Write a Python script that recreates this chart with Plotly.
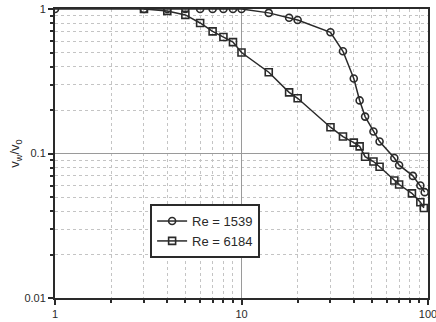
import plotly.graph_objects as go

# Re = 1539 (circles)
x_1539 = [1, 3, 4, 5, 6, 7, 8, 9, 10, 14, 18, 20, 30, 35, 40, 43, 46, 51, 55, 66, 70, 83, 91, 96]
v_1539 = [1.0, 1.0, 1.0, 1.0, 1.0, 1.0, 1.0, 1.0, 1.0, 0.94, 0.87, 0.84, 0.69, 0.51, 0.33, 0.233, 0.18,
          0.142, 0.121, 0.093, 0.083, 0.070, 0.060, 0.054]

# Re = 6184 (squares)
x_6184 = [3, 4, 5, 6, 7, 8, 9, 10, 14, 18, 20, 30, 35, 40, 43, 46, 51, 55, 66, 70, 82, 91, 95]
v_6184 = [1.0, 0.97, 0.91, 0.80, 0.70, 0.64, 0.59, 0.50, 0.365, 0.265, 0.241, 0.152, 0.131, 0.119,
          0.112, 0.095, 0.088, 0.081, 0.065, 0.061, 0.053, 0.046, 0.042]

x_ticks = [1, 10, 100]
x_ticklabels = ["1", "10", "100"]
y_ticks = [0.01, 0.1, 1]
y_ticklabels = ["0.01", "0.1", "1"]

ink = "#2a2a2a"
fig = go.Figure()
fig.add_trace(go.Scatter(
    x=x_1539, y=v_1539, mode="lines+markers", name="Re = 1539",
    line=dict(color=ink, width=1.5),
    marker=dict(symbol="circle-open", size=7, color=ink, line=dict(width=1.6, color=ink)),
))
fig.add_trace(go.Scatter(
    x=x_6184, y=v_6184, mode="lines+markers", name="Re = 6184",
    line=dict(color=ink, width=1.5),
    marker=dict(symbol="square-open", size=7, color=ink, line=dict(width=1.6, color=ink)),
))

axis_common = dict(
    type="log", automargin=False, ticklabeloverflow="allow",
    showline=True, linecolor=ink, linewidth=2, mirror=True,
    showgrid=True, gridcolor="#9a9a9a", gridwidth=1,
    ticks="outside", ticklen=5, tickwidth=1.5, tickcolor=ink,
    tickfont=dict(family="Liberation Sans, Arial", size=11, color=ink),
    zeroline=False,
    minor=dict(dtick="D1", showgrid=True, gridcolor="#c4c4c4", griddash="dot", gridwidth=1,
               ticks="outside", ticklen=3, tickwidth=1.5, tickcolor=ink),
)

fig.update_xaxes(range=[0, 2], tickvals=x_ticks, ticktext=x_ticklabels, **axis_common)
fig.update_yaxes(range=[-2, 0], tickvals=y_ticks, ticktext=y_ticklabels,
                 title=dict(text="v<sub>w</sub>/v<sub>0</sub>", font=dict(family="Liberation Sans, Arial", size=13, color=ink), standoff=2),
                 **axis_common)

fig.update_layout(
    width=436, height=322,
    margin=dict(l=55, r=8, t=9, b=24),
    paper_bgcolor="white", plot_bgcolor="white",
    legend=dict(x=0.255, y=0.325, xanchor="left", yanchor="top",
                bgcolor="white", bordercolor=ink, borderwidth=2,
                font=dict(family="Liberation Sans, Arial", size=13, color=ink),
                itemwidth=30, tracegroupgap=0),
    showlegend=True,
)

fig.write_html("out.html")
